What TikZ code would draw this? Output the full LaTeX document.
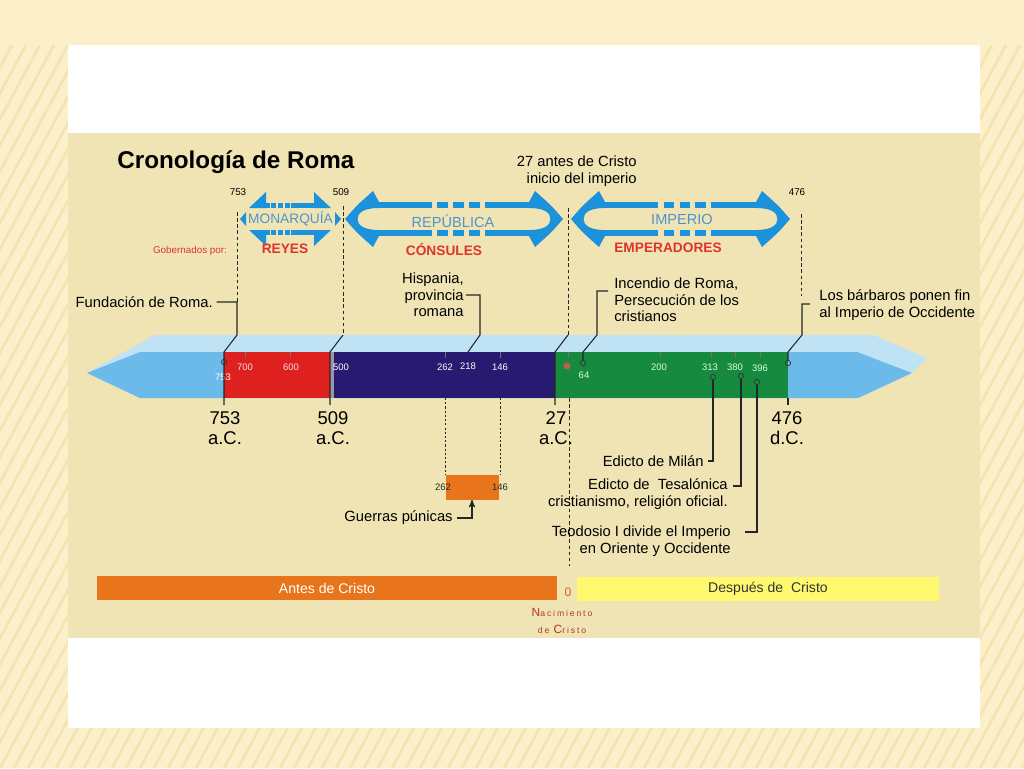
\documentclass[tikz,border=0pt]{standalone}
\usepackage{fontspec}
\setmainfont{Liberation Sans}
\usetikzlibrary{arrows,positioning}
\definecolor{pagecream}{RGB}{251,240,201}
\definecolor{stripecream}{RGB}{244,228,178}
\definecolor{panel}{RGB}{240,228,181}
\definecolor{barpale}{RGB}{192,226,245}
\definecolor{barsky}{RGB}{108,186,234}
\definecolor{barred}{RGB}{222,32,30}
\definecolor{bargray}{RGB}{150,152,165}
\definecolor{barnavy}{RGB}{40,26,112}
\definecolor{bargreen}{RGB}{22,138,62}
\definecolor{arrowblue}{RGB}{28,146,218}
\definecolor{eratext}{RGB}{78,148,200}
\definecolor{rulerred}{RGB}{222,52,42}
\definecolor{antesorange}{RGB}{232,116,28}
\definecolor{despuesyellow}{RGB}{255,249,112}
\definecolor{nacred}{RGB}{175,55,35}
\tikzset{
    lbl/.style={
        inner sep=0pt,
        font=\fontsize{8.4}{9.5}\selectfont,
    },
    yearlbl/.style={
        inner sep=0pt,
        align=center,
        font=\fontsize{10.5}{11.3}\selectfont,
    },
    barnum/.style={
        inner sep=0pt,
        font=\fontsize{5.4}{6}\selectfont,
    },
    topnum/.style={
        inner sep=0pt,
        font=\fontsize{5.6}{6}\selectfont,
    },
    era/.style={
        inner sep=0pt,
        text=eratext,
        font=\fontsize{8.3}{9}\selectfont,
    },
    ruler/.style={
        inner sep=0pt,
        text=rulerred,
        font=\bfseries\fontsize{7.8}{9}\selectfont,
    },
    erabar/.style={
        inner sep=0pt,
        minimum height=0.49cm,
        font=\fontsize{8}{9}\selectfont,
    },
    leader/.style={
        draw=black!85,
        line width=0.6pt,
    },
    guide/.style={
        draw=black!85,
        line width=0.5pt,
        dash pattern=on 2pt off 1.5pt,
    },
    tick/.style={
        draw=black!55,
        line width=0.5pt,
    },
    marker/.style={
        circle,
        draw=black!80,
        line width=0.4pt,
        inner sep=0pt,
        minimum size=3pt,
    },
    arrowline/.style={
        draw=arrowblue,
        line width=3.2pt,
    },
    stripe/.style={
        draw=stripecream,
        line width=1.6pt,
    },
}
\newcommand{\eraarrow}[4]{%
    \fill[arrowblue] (#1,#3) .. controls ({#1+0.4*#4},{#3-13}) .. ({#1+#4},{#3-28}) -- ({#1+#4+6},{#3-17}) -- ({#1+#4+6},{#3-11})
        .. controls ({#1+0.65*#4},{#3-11}) and ({#1+0.45*#4},{#3-6}) .. ({#1+0.45*#4},#3)
        .. controls ({#1+0.45*#4},{#3+6}) and ({#1+0.65*#4},{#3+11}) .. ({#1+#4+6},{#3+11}) -- ({#1+#4+6},{#3+17}) -- ({#1+#4},{#3+28})
        .. controls ({#1+0.4*#4},{#3+13}) .. (#1,#3) -- cycle;
    \fill[arrowblue] (#2,#3) .. controls ({#2-0.4*#4},{#3-13}) .. ({#2-#4},{#3-28}) -- ({#2-#4-6},{#3-17}) -- ({#2-#4-6},{#3-11})
        .. controls ({#2-0.65*#4},{#3-11}) and ({#2-0.45*#4},{#3-6}) .. ({#2-0.45*#4},#3)
        .. controls ({#2-0.45*#4},{#3+6}) and ({#2-0.65*#4},{#3+11}) .. ({#2-#4-6},{#3+11}) -- ({#2-#4-6},{#3+17}) -- ({#2-#4},{#3+28})
        .. controls ({#2-0.4*#4},{#3+13}) .. (#2,#3) -- cycle;
    \foreach \dy in {-14,14} {
        \draw[arrowline] ({#1+#4},{#3+\dy}) -- ({#1+#4+0.3*(#2-#1-2*#4)},{#3+\dy});
        \draw[arrowline, dash pattern=on 6pt off 3pt] ({#1+#4+0.3*(#2-#1-2*#4)},{#3+\dy}) -- ({#2-#4-0.3*(#2-#1-2*#4)},{#3+\dy});
        \draw[arrowline] ({#2-#4-0.3*(#2-#1-2*#4)},{#3+\dy}) -- ({#2-#4},{#3+\dy});
    }
}
\begin{document}
\begin{tikzpicture}[x=0.02cm, y=-0.02cm, >=stealth']
    \useasboundingbox (0,0) rectangle (1024,768);
    \fill[pagecream] (0,0) rectangle (1024,768);
    \begin{scope}
        \clip (0,45) rectangle (1024,768);
        \foreach \k in {-420,-406,...,1030}
            \draw[stripe] (\k,768) -- ++(390,-723);
    \end{scope}
    \fill[white] (68,45) rectangle (980,728);
    \fill[panel] (68,133) rectangle (980,638);

    \node [anchor=base west, inner sep=0pt, font=\bfseries\fontsize{13.8}{15}\selectfont] (title) at (117,168) {Cronología de Roma};

    \fill[arrowblue] (249,208) -- (266,192) -- (266,208) -- cycle (331,208) -- (314,192) -- (314,208) -- cycle;
    \fill[arrowblue] (249,230) -- (266,246) -- (266,230) -- cycle (331,230) -- (314,246) -- (314,230) -- cycle;
    \fill[arrowblue] (240,219) -- (246,212) -- (246,226) -- cycle (341,219) -- (335,212) -- (335,226) -- cycle;
    \draw[arrowline, line width=2.8pt] (262,205.5) -- (270,205.5) (291,205.5) -- (318,205.5) (262,232.5) -- (270,232.5) (291,232.5) -- (318,232.5);
    \draw[arrowline, line width=2.8pt, dash pattern=on 2.6pt off 1.4pt] (271,205.5) -- (290,205.5) (271,232.5) -- (290,232.5);
    \eraarrow{345}{563}{219}{28}
    \eraarrow{571}{790}{219}{28}
    \node [era, font=\fontsize{7.8}{9}\selectfont] (monarquia) at (290.5,219) {MONARQUÍA};
    \node [era] (republica) at (453,221) {REPÚBLICA};
    \node [era] (imperio) at (682,219) {IMPERIO};
    \node [ruler] (reyes) at (285,249) {REYES};
    \node [ruler] (consules) at (444,249) {CÓNSULES};
    \node [ruler] (emperadores) at (668,248) {EMPERADORES};
    \node [inner sep=0pt, text=rulerred, font=\fontsize{5.6}{6}\selectfont] (gobernados) at (190,251) {Gobernados por:};

    \node [topnum] (n753) at (238,192) {753};
    \node [topnum] (n509) at (341,192) {509};
    \node [topnum] (n476) at (797,192) {476};
    \node [lbl, align=right, anchor=east] (inicio) at (637,171) {27 antes de Cristo\\inicio del imperio};

    \fill[barpale] (87,373) -- (155,335) -- (873,335) -- (927,358) -- (912,373) -- (858,398) -- (140,398) -- cycle;
    \fill[barsky] (87,373) -- (140,352) -- (857,352) -- (912,373) -- (858,398) -- (140,398) -- cycle;
    \fill[barred] (224,352) rectangle (330,398);
    \fill[bargray] (330,352) rectangle (334,398);
    \fill[barnavy] (334,352) rectangle (555,398);
    \fill[bargreen] (555,352) rectangle (788,398);
    \draw[tick] (245,352) -- ++(0,6) (290,352) -- ++(0,6) (445,352) -- ++(0,6) (500,352) -- ++(0,6)
        (568,352) -- ++(0,6) (660,352) -- ++(0,6) (711,352) -- ++(0,6) (735,352) -- ++(0,6) (760,352) -- ++(0,6);

    \node [barnum, text=white] (b753) at (223,377) {753};
    \node [barnum, text=red!15] (b700) at (245,367) {700};
    \node [barnum, text=red!15] (b600) at (291,367) {600};
    \node [barnum, text=white] (b500) at (341,367) {500};
    \node [barnum, text=white] (b262) at (445,367) {262};
    \node [barnum, text=white] (b218) at (468,366) {218};
    \node [barnum, text=white] (b146) at (500,367) {146};
    \node [barnum, text=green!15] (b64) at (584,375) {64};
    \node [barnum, text=green!15] (b200) at (659,367) {200};
    \node [barnum, text=green!15] (b313) at (710,367) {313};
    \node [barnum, text=green!15] (b380) at (735,367) {380};
    \node [barnum, text=green!15] (b396) at (760,368) {396};

    \node [marker] (m753) at (224,362) {};
    \node [marker] (m64) at (583,363) {};
    \node [marker] (m313) at (713,377) {};
    \node [marker] (m380) at (741,376) {};
    \node [marker] (m396) at (757,382) {};
    \node [marker] (m476) at (788,363) {};
    \node [circle, fill=nacred!80, inner sep=0pt, minimum size=4pt] (m0) at (567,366) {};

    \coordinate (k753) at (237,335);
    \coordinate (k509) at (343,335);
    \coordinate (k218) at (480,335);
    \coordinate (k27) at (568,335);
    \coordinate (k64) at (597,335);
    \coordinate (k476) at (802,335);
    \coordinate (c753) at (224,352);
    \coordinate (c509) at (330,352);
    \coordinate (c218) at (468,352);
    \coordinate (c27) at (555,352);
    \coordinate (c64) at (583,352);
    \coordinate (c476) at (788,352);

    \node [lbl, anchor=east] (fundacion) at (213,302) {Fundación de Roma.};
    \node [lbl, align=right, anchor=east] (hispania) at (464,295) {Hispania,\\provincia\\romana};
    \node [lbl, align=left, anchor=west] (incendio) at (614,300) {Incendio de Roma,\\Persecución de los\\cristianos};
    \node [lbl, align=left, anchor=west] (barbaros) at (819,305) {Los bárbaros ponen fin\\al Imperio de Occidente};

    \draw[guide] (237,212) -- (237,302);
    \draw[leader] ([xshift=2pt]fundacion.east) -- (fundacion.east -| k753) -- (k753) -- (c753) -- ++(0,53);
    \draw[guide] (343,206) -- (k509);
    \draw[leader] (k509) -- (c509) -- ++(0,53);
    \draw[leader] ([xshift=1pt]hispania.east) -- (hispania.east -| k218) -- (k218) -- (c218);
    \draw[guide] (568,208) -- (k27);
    \draw[leader] (k27) -- (c27) -- ++(0,53);
    \draw[leader] (608,291) -- (597,291) -- (k64) -- (c64) -- (m64);
    \draw[guide] (801,214) -- (801,296);
    \draw[leader] (810,304) -- (802,304) -- (k476) -- (c476) -- (m476);
    \draw[leader] (788,398) -- ++(0,7);
    \draw[guide] (569,398) -- (569,566);

    \node [yearlbl] (y753) at (225,428) {753\\a.C.};
    \node [yearlbl] (y509) at (333,428) {509\\a.C.};
    \node [yearlbl] (y27) at (556,428) {27\\a.C.};
    \node [yearlbl] (y476) at (787,428) {476\\d.C.};

    \node [fill=antesorange, inner sep=0pt, minimum width=1.06cm, minimum height=0.5cm] (guerrasbox) at (472,487) {};
    \node [barnum, text=black!85] (g262) at (443,487) {262};
    \node [barnum, text=black!85] (g146) at (500,487) {146};
    \draw[guide, dash pattern=on 1.2pt off 1.2pt] (445,398) -- (445,475);
    \draw[guide, dash pattern=on 1.2pt off 1.2pt] (500,398) -- (500,475);
    \node [lbl, anchor=east] (guerras) at (453,518) {Guerras púnicas};
    \draw[leader, ->] ([xshift=2pt]guerras.east) -- (guerras.east -| guerrasbox.south) -- (guerrasbox.south);

    \node [lbl, anchor=east] (milan) at (704,461) {Edicto de Milán};
    \node [lbl, align=right, anchor=east] (tesalonica) at (728,494) {Edicto de \ Tesalónica\\cristianismo, religión oficial.};
    \node [lbl, align=right, anchor=east] (teodosio) at (731,541) {Teodosio I divide el Imperio\\en Oriente y Occidente};
    \draw[leader] ([xshift=2pt]milan.east) -- (milan.east -| m313) -- (m313);
    \draw[leader] (733,486) -- (741,486) -- (m380);
    \draw[leader] (745,532) -- (757,532) -- (m396);

    \node [erabar, fill=antesorange, text=white, minimum width=9.2cm] (antes) at (327,588) {Antes de Cristo};
    \node [erabar, fill=despuesyellow, text=black!80, minimum width=7.26cm] (despues) at (758,589) {\hspace{0.4cm}Después de \ Cristo};
    \node [inner sep=0pt, text=antesorange!90!black, font=\fontsize{7}{8}\selectfont] (cero) at (568,592) {0};
    \node [inner sep=0pt, align=center, text=nacred, font=\fontsize{6.8}{9.6}\selectfont] (nacimiento) at (562,621)
        {N{\fontsize{4.9}{5}\selectfont\addfontfeature{LetterSpace=22}acimiento}\\{\fontsize{4.9}{5}\selectfont\addfontfeature{LetterSpace=22}de }C{\fontsize{4.9}{5}\selectfont\addfontfeature{LetterSpace=22}risto}};
\end{tikzpicture}
\end{document}
